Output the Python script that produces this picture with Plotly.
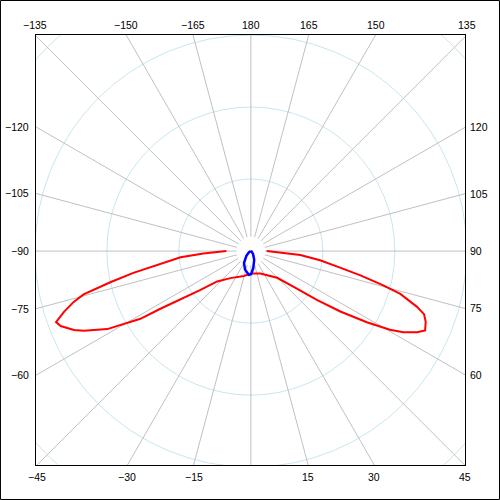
"""Polar luminous-intensity diagram drawn in a square frame (plotly)."""

import numpy as np
import plotly.graph_objects as go

# Red plane: gamma angle (deg, 0 = nadir, + to the right) and intensity
RED_ANGLE = [-90, -87, -85, -81.5, -79.5, -77.5, -75.5, -74, -72, -70,
             -68.5, -66, -64.5, -61.5, -60.5, -58.5, -57.5, -55.5, -52.5,
             -48, -37, -16, -5, 3, 23, 29, 44.5, 50, 53.5, 56, 58.5, 60.5,
             62, 64, 65.5, 68, 70, 71.5, 74, 75.5, 77.5, 79.5, 82.5, 85.5,
             87, 90]
RED_VALUE = [34, 66, 98, 132, 166, 200, 240, 256, 273, 288,
             284, 269, 257, 227, 208, 180, 149, 119, 89,
             63, 47, 36, 33, 31, 34, 37, 52, 77, 114, 150, 189, 222,
             240, 257, 266, 262, 256, 243, 216, 190, 156, 126, 97, 69,
             46, 22]

# Blue plane
BLUE_ANGLE = [-90, -60, -43.5, -30, -17.5, -5, 0.5, 8, 21, 37, 60, 90]
BLUE_VALUE = [0, 3, 9, 19, 27, 33, 32, 24, 13, 5, 1, 0]

RING_VALUES = [100, 200, 300, 400]
RAY_ANGLES = list(range(0, 360, 15))

TOP_LABELS = [-135, -150, -165, 180, 165, 150, 135]
BOTTOM_LABELS = [-45, -30, -15, 15, 30, 45]
LEFT_LABELS = [-120, -105, -90, -75, -60]
RIGHT_LABELS = [120, 105, 90, 75, 60]

X_RANGE = [-298.5, 297.5]
Y_RANGE = [-297, 300]
RAY_START = 20
RAY_END = 500

C_RING = "#c9e6ee"
C_RAY = "#c0c0c0"
FONT = {"family": "Liberation Sans, Arial, sans-serif", "size": 10.5, "color": "black"}


def to_xy(angles, values):
    a = np.radians(np.asarray(angles, dtype=float))
    r = np.asarray(values, dtype=float)
    return r * np.sin(a), -r * np.cos(a)


def px(x):
    """Data x -> paper x."""
    return (x - X_RANGE[0]) / (X_RANGE[1] - X_RANGE[0])


def py(y):
    """Data y -> paper y."""
    return (y - Y_RANGE[0]) / (Y_RANGE[1] - Y_RANGE[0])


def label(ang):
    return str(ang).replace("-", "−")


fig = go.Figure()

shapes = []
for rv in RING_VALUES:
    shapes.append(dict(type="circle", xref="x", yref="y", x0=-rv, x1=rv, y0=-rv, y1=rv,
                       line={"color": C_RING, "width": 1}, layer="below"))
for ang in RAY_ANGLES:
    (x0, x1), (y0, y1) = to_xy([ang, ang], [RAY_START, RAY_END])
    shapes.append(dict(type="line", xref="x", yref="y", x0=x0, x1=x1, y0=y0, y1=y1,
                       line={"color": C_RAY, "width": 1}, layer="below"))
# outer frame around the whole picture
shapes.append(dict(type="rect", xref="paper", yref="paper",
                   x0=-0.0828, x1=1.0804, y0=-0.0802, y1=1.0802,
                   line={"color": "black", "width": 1}))

rx, ry = to_xy(RED_ANGLE, RED_VALUE)
fig.add_trace(go.Scatter(x=rx, y=ry, mode="lines", line={"color": "#ff0000", "width": 2},
                         hoverinfo="skip", showlegend=False))
bx, by = to_xy(BLUE_ANGLE, BLUE_VALUE)
fig.add_trace(go.Scatter(x=bx, y=by, mode="lines", line={"color": "#0000ff", "width": 2.5},
                         hoverinfo="skip", showlegend=False))

annotations = []
for ang in TOP_LABELS:
    a = np.radians(ang)
    x = Y_RANGE[1] * np.sin(a) / -np.cos(a)
    annotations.append(dict(x=px(x), y=1, xref="paper", yref="paper", text=label(ang),
                            showarrow=False, xanchor="center", yanchor="bottom", yshift=2, font=FONT))
for ang in BOTTOM_LABELS:
    a = np.radians(ang)
    x = Y_RANGE[0] * np.sin(a) / -np.cos(a)
    annotations.append(dict(x=px(x), y=0, xref="paper", yref="paper", text=label(ang),
                            showarrow=False, xanchor="center", yanchor="top", yshift=-4, font=FONT))
for ang in LEFT_LABELS:
    a = np.radians(ang)
    y = X_RANGE[0] * -np.cos(a) / np.sin(a)
    annotations.append(dict(x=0, y=py(y), xref="paper", yref="paper", text=label(ang),
                            showarrow=False, xanchor="right", yanchor="middle", xshift=-5, font=FONT))
for ang in RIGHT_LABELS:
    a = np.radians(ang)
    y = X_RANGE[1] * -np.cos(a) / np.sin(a)
    annotations.append(dict(x=1, y=py(y), xref="paper", yref="paper", text=label(ang),
                            showarrow=False, xanchor="left", yanchor="middle", xshift=3, font=FONT))

axis = dict(showgrid=False, zeroline=False, showticklabels=False, ticks="",
            showline=True, mirror=True, linecolor="black", linewidth=1, fixedrange=True)
fig.update_layout(
    width=500, height=500, autosize=False,
    margin={"l": 36, "r": 35, "t": 35, "b": 35},
    plot_bgcolor="white", paper_bgcolor="white",
    xaxis={**axis, "range": X_RANGE},
    yaxis={**axis, "range": Y_RANGE},
    shapes=shapes, annotations=annotations, showlegend=False,
)

fig.write_html("out.html", config={"staticPlot": True},
               post_script="document.body.style.margin='0';")
